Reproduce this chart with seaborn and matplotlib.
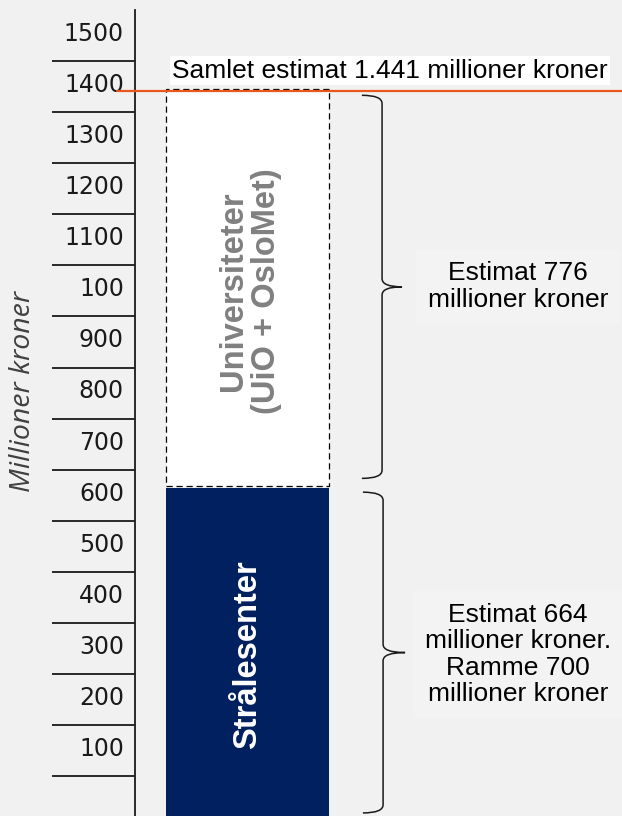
import numpy as np
import pandas as pd
import matplotlib
matplotlib.use("Agg")
import matplotlib.pyplot as plt
from matplotlib.path import Path
from matplotlib.patches import PathPatch
import seaborn as sns

# ---------------- data ----------------
segments = ["Strålesenter", "Universiteter\n(UiO + OsloMet)"]
segment_values = [664, 776]          # millioner kroner
total_value = 1441                   # samlet estimat
tick_values = [100, 200, 300, 400, 500, 600, 700, 800, 900, 1000,
               1100, 1200, 1300, 1400, 1500]
tick_labels = ["100", "200", "300", "400", "500", "600", "700", "800", "900",
               "100", "1100", "1200", "1300", "1400", "1500"]
total_label = "Samlet estimat 1.441 millioner kroner"
brace_labels = ["Estimat 664\nmillioner kroner.\nRamme 700\nmillioner kroner",
                "Estimat 776\nmillioner kroner"]
y_label = "Millioner kroner"

# ---------------- style ----------------
BG = "#f1f1f1"
NAVY = "#002060"
ORANGE = "#e8571c"
INK = "#1a1a1a"

sns.set_theme(style="white")
plt.rcParams["font.family"] = ["Liberation Sans", "DejaVu Sans"]

fig = plt.figure(figsize=(6.22, 8.16), dpi=100, facecolor=BG)
ax = fig.add_axes([135 / 622, 0, 487 / 622, 806 / 816])
ax.set_facecolor(BG)

df = pd.DataFrame({"bar": ["x"], "strale": [segment_values[0]],
                   "univ": [segment_values[1]]})
univ_bottom = total_value - segment_values[1]

sns.barplot(data=df, x="bar", y="strale", color=NAVY, saturation=1,
            width=0.8, ax=ax, linewidth=0)
sns.barplot(data=df, x="bar", y="univ", color="white", saturation=1,
            width=0.8, ax=ax, bottom=univ_bottom + 4, edgecolor="black",
            linewidth=0.9, linestyle=(0, (5, 3)))

ax.set_xlim(-0.552, 1.839)
ax.set_ylim(22, 1600)

# axis / ticks
for s in ["top", "right", "bottom"]:
    ax.spines[s].set_visible(False)
ax.spines["left"].set_color(INK)
ax.spines["left"].set_linewidth(1.3)
ax.set_xticks([])
ax.set_xlabel("")
ax.set_ylabel("")
ax.set_yticks(tick_values)
ax.set_yticklabels([])
ax.set_yticks([v + 58 for v in tick_values], minor=True)
ax.set_yticklabels(tick_labels, minor=True, family="DejaVu Sans")
ax.tick_params(axis="y", which="major", left=True, length=59.8, width=1.3,
               color=INK, direction="out", labelleft=False)
ax.tick_params(axis="y", which="minor", left=True, length=0, pad=8,
               labelsize=17, labelcolor=INK)
ax.grid(False)

# total line + label
ax.axhline(total_value, xmin=-18 / 487, xmax=1, color=ORANGE, lw=1.6,
           clip_on=False, zorder=5)
ax.text(0.7, total_value + 40, total_label, ha="center", va="center",
        fontsize=19, color="black", zorder=6,
        bbox=dict(boxstyle="square,pad=0.1", fc="white", ec="none"))

# bar labels
ax.text(0.0, segment_values[0] / 2 + 5, segments[0], rotation=90,
        ha="center", va="center", fontsize=23.5, fontweight="bold",
        color="white")
ax.text(0.013, univ_bottom + segment_values[1] / 2 - 4, segments[1],
        rotation=90, ha="center", va="center", fontsize=23.5,
        fontweight="bold", color="#808080", linespacing=1.05)


def brace(ax, y_lo, y_hi, xh, xm, xt, r=16):
    ym = (y_lo + y_hi) / 2
    verts = [(xh, y_hi), (xm, y_hi), (xm, y_hi - r),
             (xm, ym + r), (xm, ym), (xt, ym),
             (xm, ym), (xm, ym - r),
             (xm, y_lo + r), (xm, y_lo), (xh, y_lo)]
    codes = [Path.MOVETO, Path.CURVE3, Path.CURVE3,
             Path.LINETO, Path.CURVE3, Path.CURVE3,
             Path.CURVE3, Path.CURVE3,
             Path.LINETO, Path.CURVE3, Path.CURVE3]
    ax.add_patch(PathPatch(Path(verts, codes), fc="none", ec=INK, lw=1.1,
                           clip_on=False))
    return ym


ym2 = brace(ax, 28, segment_values[0] - 8, 0.567, 0.666, 0.774)
ym1 = brace(ax, univ_bottom + 18, total_value - 8, 0.562, 0.661, 0.759)

box = dict(boxstyle="square,pad=0.45", fc="#f3f3f3", ec="none")
ax.text(1.328, ym1, brace_labels[1], ha="center", va="center", fontsize=19,
        color="black", linespacing=1.15, bbox=box)
ax.text(1.328, ym2 - 4, brace_labels[0], ha="center", va="center", fontsize=19,
        color="black", linespacing=1.12, bbox=box)

fig.text(23 / 622, 1 - 391 / 816, y_label, rotation=90, ha="center",
         va="center", fontsize=20.5, style="italic", color="#404040",
         family=["Open Sans", "DejaVu Sans"])

fig.savefig("out.png", dpi=100, facecolor=BG)
